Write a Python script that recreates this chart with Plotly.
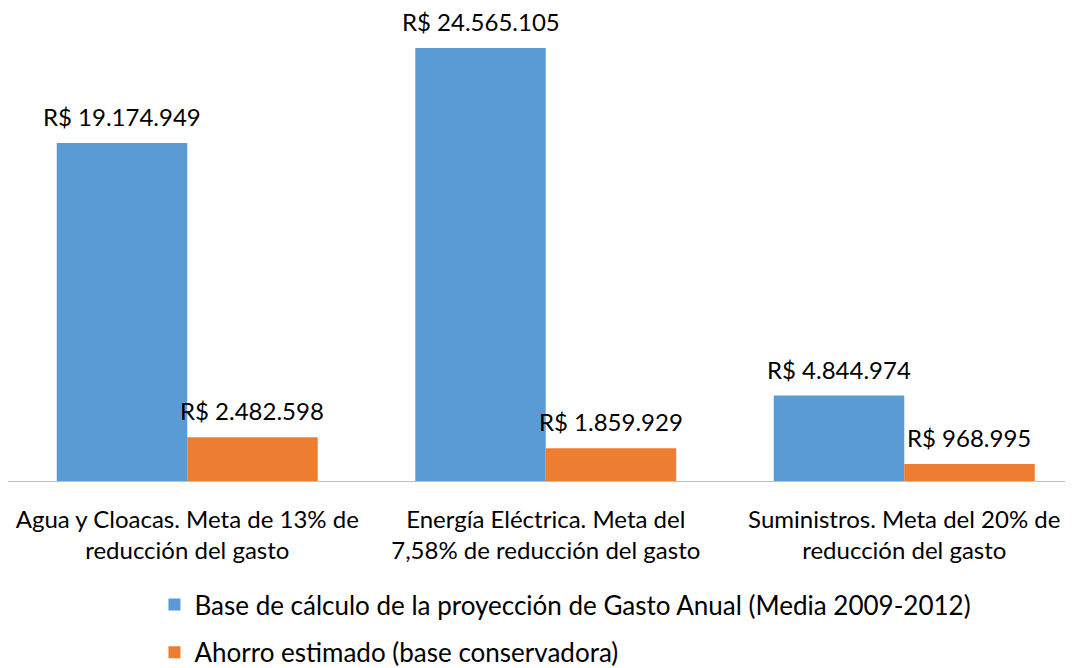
import plotly.graph_objects as go

categories = [
    "Agua y Cloacas. Meta de 13% de<br>reducción del gasto",
    "Energía Eléctrica. Meta del<br>7,58% de reducción del gasto",
    "Suministros. Meta del 20% de<br>reducción del gasto",
]
series_names = [
    "Base de cálculo de la proyección de Gasto Anual (Media 2009-2012)",
    "Ahorro estimado (base conservadora)",
]
base_values = [19174949, 24565105, 4844974]
saving_values = [2482598, 1859929, 968995]
colors = ["#5B9BD5", "#ED7D31"]

def fmt(v):
    return "R$ " + f"{v:,}".replace(",", ".")

FONT = "Lato, 'Open Sans', sans-serif"

fig = go.Figure()
all_vals = [base_values, saving_values]
for i, (name, vals) in enumerate(zip(series_names, all_vals)):
    fig.add_trace(go.Bar(
        x=categories, y=vals, name=name,
        marker=dict(color=colors[i], line=dict(width=0)),
        cliponaxis=False, legendgroup=f"g{i}",
    ))

annotations = []
for i, vals in enumerate(all_vals):
    shift = -65 if i == 0 else 65
    for c, v in zip(categories, vals):
        annotations.append(dict(
            x=c, y=v, text=fmt(v), showarrow=False,
            xanchor="center", yanchor="bottom", xshift=shift, yshift=10,
            font=dict(size=24, family=FONT, color="#000000"),
        ))

fig.update_layout(
    width=1073, height=668,
    margin=dict(l=0, r=0, t=0, b=195, autoexpand=False),
    barmode="group", bargap=0.272, bargroupgap=0,
    plot_bgcolor="white", paper_bgcolor="white",
    font=dict(family=FONT, size=24, color="#000000"),
    showlegend=True,
    annotations=annotations,
    legend=dict(orientation="v", x=0.1365, y=-0.2114, xanchor="left", yanchor="top",
                font=dict(size=26, family=FONT, color="#000000"),
                tracegroupgap=11, itemwidth=30, bgcolor="rgba(0,0,0,0)"),
    xaxis=dict(range=[-0.5, 2.493], showline=True, linecolor="#BFBFBF", linewidth=1,
               ticks="", ticklabelstandoff=17, automargin=False,
               tickfont=dict(size=24, family=FONT, color="#000000")),
    yaxis=dict(range=[0, 26830000], visible=False, showgrid=False, automargin=False),
)
fig.write_html("out.html")
